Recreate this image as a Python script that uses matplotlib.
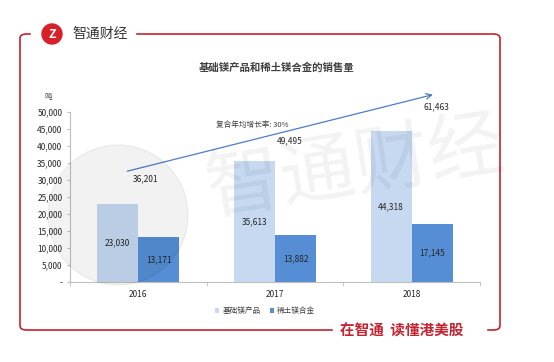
import matplotlib.pyplot as plt
from matplotlib.patches import FancyBboxPatch, Ellipse, Rectangle
import numpy as np

plt.rcParams['font.family'] = ['Noto Sans CJK SC', 'DejaVu Sans']

# data
years = ['2016', '2017', '2018']
basic_mg = [23030, 35613, 44318]
re_mg_alloy = [13171, 13882, 17145]
totals = [36201, 49495, 61463]
series_names = ['基础镁产品', '稀土镁合金']
cagr_text = '复合年均增长率: 30%'

W, H = 554, 362
fig = plt.figure(figsize=(W / 100, H / 100), dpi=100)


def fx(px):
    return px / W


def fy(py):
    return 1 - py / H


def circ(cx, cy, r, **kw):
    # round circle given in pixels
    return Ellipse((fx(cx), fy(cy)), 2 * r / W, 2 * r / H,
                   transform=fig.transFigure, **kw)


red = '#C3242F'
light = '#C6D9F1'
dark = '#558ED5'

# frame
frame = FancyBboxPatch((fx(20), fy(330)), fx(480), (330 - 34) / H,
                       boxstyle='round,pad=0,rounding_size=0.012',
                       transform=fig.transFigure, fill=False,
                       edgecolor=red, linewidth=1.2)
fig.patches.append(frame)
fig.patches.append(Rectangle((fx(31), fy(40)), fx(104), 12 / H,
                             transform=fig.transFigure, color='white', zorder=2))
fig.patches.append(Rectangle((fx(333), fy(336)), fx(153), 12 / H,
                             transform=fig.transFigure, color='white', zorder=2))

# logo
fig.patches.append(circ(52, 34, 10, color='#D7202A', zorder=3))
fig.text(fx(52), fy(34), 'Z', color='white', fontsize=9, fontweight='bold',
         style='italic', ha='center', va='center', zorder=4)
fig.text(fx(72), fy(34), '智通财经', fontsize=10, color='#333333',
         ha='left', va='center', zorder=4)
fig.text(fx(340), fy(331), '在智通  读懂港美股', fontsize=10.5, color=red,
         fontweight='bold', ha='left', va='center', zorder=4)

fig.text(fx(277), fy(68), '基础镁产品和稀土镁合金的销售量', fontsize=7.5,
         fontweight='bold', color='#404040', ha='center', va='center')
fig.text(fx(48), fy(97), '吨', fontsize=5.5, color='#404040', ha='center', va='center')

ax = fig.add_axes([fx(70), fy(282), fx(410), (282 - 112) / H])
x = np.arange(len(years))
bw = 0.3
b1 = ax.bar(x - bw / 2, basic_mg, bw, color=light, label=series_names[0], zorder=2)
b2 = ax.bar(x + bw / 2, re_mg_alloy, bw, color=dark, label=series_names[1], zorder=2)
for bars in (b1, b2):
    for r in bars:
        ax.text(r.get_x() + r.get_width() / 2, r.get_height() / 2,
                f'{int(r.get_height()):,}', ha='center', va='center',
                fontsize=6, color='#262626', zorder=3)

# totals, drawn a bit below/right of the trend arrow
tot_dx = [0.05, 0.11, 0.18]
for i, t in enumerate(totals):
    ax.text(x[i] + tot_dx[i], t * 0.837, f'{t:,}', ha='center', va='center',
            fontsize=6, color='#262626', clip_on=False)

ax.annotate('', xy=(2.175, 55300), xytext=(-0.1, 32400),
            arrowprops=dict(arrowstyle='->', color='#4A7EC9', lw=0.9),
            annotation_clip=False)
ax.text(0.83, 46300, cagr_text, ha='center', va='center', fontsize=5.5,
        color='#404040')

ax.set_xlim(-0.5, 2.5)
ax.set_ylim(0, 50000)
ax.set_yticks(range(0, 50001, 5000))
ax.set_yticklabels(['-'] + [f'{v:,}' for v in range(5000, 50001, 5000)])
ax.set_xticks(x)
ax.set_xticklabels(years)
ax.set_xticks([-0.5, 0.5, 1.5, 2.5], minor=True)
ax.tick_params(axis='x', which='major', length=0, labelsize=6, colors='#262626', pad=6)
ax.tick_params(axis='x', which='minor', length=3, color='#BFBFBF')
ax.tick_params(axis='y', length=2.5, color='#BFBFBF', labelsize=6,
               labelcolor='#262626', pad=3)
for s in ['top', 'right']:
    ax.spines[s].set_visible(False)
for s in ['left', 'bottom']:
    ax.spines[s].set_color('#BFBFBF')
    ax.spines[s].set_linewidth(0.8)

leg = fig.legend(handles=[b1, b2], loc='center', bbox_to_anchor=(fx(265), fy(311)),
                 ncol=2, frameon=False, fontsize=5.5, handlelength=0.6,
                 handleheight=0.6, columnspacing=1.2, handletextpad=0.4)
for t in leg.get_texts():
    t.set_color('#404040')

# watermark
fig.patches.append(circ(118, 215, 70, color='black', alpha=0.05, zorder=10))
fig.text(fx(355), fy(168), '智通财经', fontsize=54, color='black', alpha=0.05,
         rotation=9, ha='center', va='center', zorder=10)

fig.savefig('out.png', dpi=100)
